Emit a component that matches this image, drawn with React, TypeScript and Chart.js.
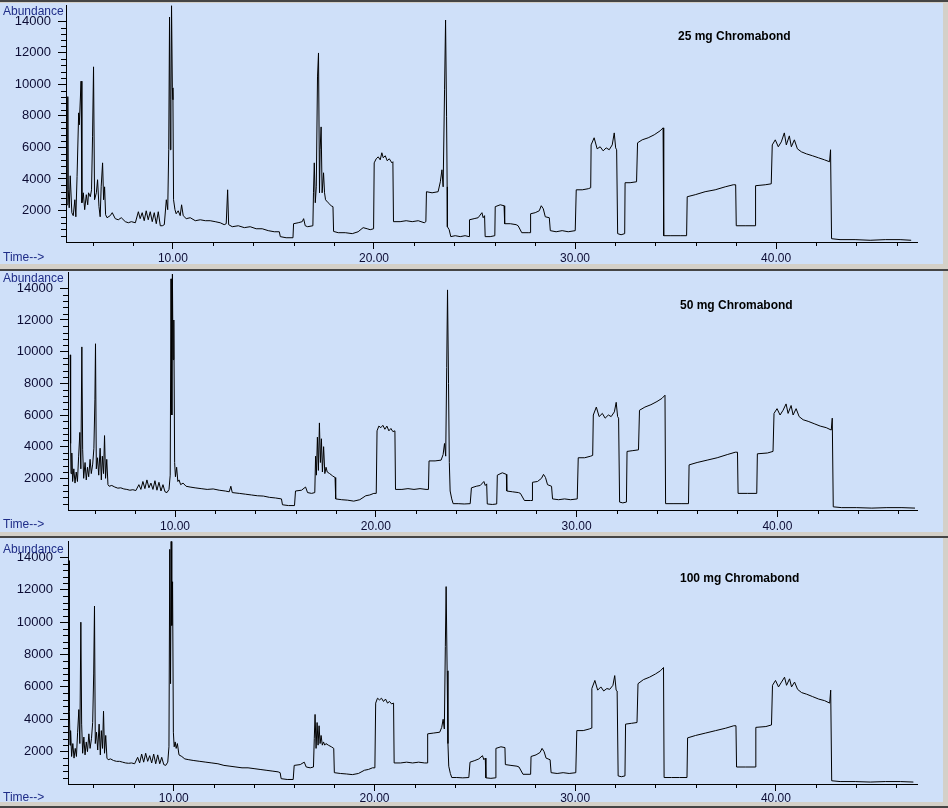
import React, { useEffect, useRef } from 'react';
import { Chart, registerables } from 'chart.js';

Chart.register(...registerables);

// ---------- tick labels ----------
const X_TICKS = [10, 20, 30, 40];
const Y_TICKS = [2000, 4000, 6000, 8000, 10000, 12000, 14000];
const TITLES = ['25 mg Chromabond', '50 mg Chromabond', '100 mg Chromabond'];

// ---------- 25 mg Chromabond ----------
const TIME_25 = [
  4.73, 4.77, 4.79, 4.84, 4.89, 4.97, 5.04, 5.12, 5.17, 5.23,
  5.31, 5.34, 5.43, 5.47, 5.54, 5.61, 5.69, 5.76, 5.80, 5.89,
  5.95, 6.00, 6.05, 6.10, 6.19, 6.25, 6.32, 6.38, 6.43, 6.50,
  6.55, 6.60, 6.65, 6.72, 6.88, 6.98, 7.13, 7.28, 7.43, 7.63,
  7.78, 7.93, 8.13, 8.28, 8.37, 8.47, 8.57, 8.67, 8.77, 8.87,
  8.97, 9.07, 9.17, 9.27, 9.37, 9.47, 9.57, 9.67, 9.74, 9.79,
  9.83, 9.87, 9.90, 9.93, 9.97, 10.00, 10.03, 10.10, 10.16, 10.26,
  10.36, 10.43, 10.51, 10.66, 10.86, 11.11, 11.36, 11.61, 11.85, 12.10,
  12.35, 12.55, 12.65, 12.72, 12.77, 12.95, 13.25, 13.55, 13.84, 14.14,
  14.44, 14.74, 15.04, 15.29, 15.34, 15.63, 15.97, 16.00, 16.23, 16.43,
  16.50, 16.58, 16.70, 16.96, 16.99, 17.03, 17.08, 17.13, 17.19, 17.24,
  17.29, 17.32, 17.37, 17.42, 17.49, 17.54, 17.59, 17.72, 17.87, 17.96,
  17.99, 18.22, 18.57, 18.92, 19.21, 19.46, 19.66, 19.81, 19.98, 20.01,
  20.11, 20.21, 20.31, 20.39, 20.46, 20.56, 20.66, 20.76, 20.89, 20.94,
  20.97, 21.30, 21.60, 21.90, 22.20, 22.50, 22.58, 22.61, 22.89, 23.19,
  23.30, 23.38, 23.44, 23.51, 23.56, 23.61, 23.64, 23.65, 23.74, 23.82,
  24.04, 24.29, 24.53, 24.73, 24.75, 24.98, 25.18, 25.37, 25.43, 25.50,
  25.53, 25.78, 26.01, 26.03, 26.28, 26.47, 26.50, 26.78, 27.07, 27.17,
  27.35, 27.67, 27.77, 27.79, 28.02, 28.22, 28.32, 28.42, 28.52, 28.72,
  28.77, 29.06, 29.36, 29.66, 30.01, 30.06, 30.36, 30.66, 30.78, 30.80,
  30.95, 31.10, 31.25, 31.40, 31.55, 31.70, 31.85, 31.95, 32.02, 32.07,
  32.12, 32.29, 32.47, 32.49, 32.74, 33.06, 33.11, 33.34, 33.64, 33.94,
  34.23, 34.38, 34.41, 34.73, 35.23, 35.55, 35.58, 35.98, 36.47, 36.97,
  37.47, 37.87, 37.99, 38.02, 38.46, 38.96, 38.98, 39.46, 39.76, 39.81,
  39.96, 40.11, 40.26, 40.41, 40.51, 40.66, 40.76, 40.91, 41.06, 41.26,
  41.51, 41.81, 42.11, 42.41, 42.66, 42.71, 42.76, 43.18, 43.93, 44.68,
  45.43, 46.17, 46.72,
];
const ABUND_25 = [
  2360, 9220, 3310, 2170, 4200, 1860, 1670, 2680, 1600, 4140,
  8190, 7430, 10200, 2490, 3120, 2050, 3000, 2360, 3120, 2870,
  3310, 6670, 11110, 2680, 3120, 3950, 2240, 1600, 3500, 5020,
  2680, 3500, 1730, 1540, 1670, 1860, 1480, 1410, 1540, 1290,
  1220, 1290, 1220, 1920, 1480, 1860, 1350, 1980, 1410, 1920,
  1290, 1860, 1160, 1920, 1030, 1030, 1100, 2680, 2050, 5850,
  14270, 5850, 9020, 15000, 9780, 9020, 2680, 2050, 1790, 1980,
  1670, 2360, 1670, 1480, 1540, 1350, 1410, 1350, 1350, 1290,
  1220, 1100, 1160, 3310, 1100, 970, 1030, 910, 970, 840,
  840, 720, 650, 650, 340, 270, 270, 1160, 1220, 1290,
  1480, 1030, 970, 1030, 3120, 5020, 2490, 3500, 10470, 11990,
  3120, 5850, 7300, 3120, 4390, 3120, 2680, 2490, 2300, 2240,
  670, 590, 590, 530, 650, 910, 840, 780, 840, 5020,
  5280, 5400, 5210, 5660, 5340, 5470, 5150, 5280, 5020, 5090,
  1290, 1290, 1350, 1290, 1350, 1220, 1290, 3190, 3120, 3190,
  3820, 4580, 3500, 9650, 14080, 7940, 3500, 970, 780, 340,
  400, 340, 400, 340, 1410, 1480, 1540, 1860, 1540, 1670,
  340, 340, 400, 2240, 2360, 2300, 1160, 1160, 1100, 1030,
  590, 590, 590, 1790, 1860, 1980, 2300, 2110, 1600, 1540,
  720, 650, 720, 650, 720, 3310, 3310, 3380, 3440, 6160,
  6610, 5910, 6040, 5780, 5970, 5850, 6160, 6920, 5970, 5850,
  530, 460, 530, 3760, 3760, 3820, 6290, 6480, 6610, 6800,
  7050, 7240, 400, 400, 400, 400, 2870, 3000, 3190, 3310,
  3500, 3630, 3630, 1030, 1030, 1030, 3570, 3630, 3690, 6160,
  6480, 6040, 6350, 6920, 6160, 6730, 6040, 6480, 5910, 5720,
  5590, 5470, 5340, 5210, 5090, 5850, 210, 150, 150, 110,
  150, 150, 110,
];

// ---------- 50 mg Chromabond ----------
const TIME_50 = [
  4.78, 4.80, 4.82, 4.86, 4.90, 4.96, 5.02, 5.08, 5.14, 5.20,
  5.26, 5.31, 5.36, 5.40, 5.45, 5.52, 5.58, 5.64, 5.70, 5.77,
  5.83, 5.90, 5.96, 6.01, 6.04, 6.08, 6.14, 6.20, 6.27, 6.33,
  6.38, 6.44, 6.49, 6.54, 6.60, 6.66, 6.72, 6.85, 7.00, 7.15,
  7.30, 7.45, 7.60, 7.75, 7.90, 8.05, 8.20, 8.30, 8.40, 8.50,
  8.60, 8.70, 8.80, 8.90, 9.00, 9.10, 9.20, 9.30, 9.40, 9.50,
  9.60, 9.70, 9.76, 9.80, 9.84, 9.87, 9.90, 9.94, 9.98, 10.02,
  10.08, 10.14, 10.20, 10.28, 10.40, 10.55, 10.75, 11.00, 11.30, 11.60,
  11.90, 12.20, 12.50, 12.70, 12.78, 12.85, 13.20, 13.50, 13.80, 14.10,
  14.40, 14.70, 15.00, 15.30, 15.35, 15.65, 15.95, 16.00, 16.30, 16.50,
  16.60, 16.80, 16.96, 17.00, 17.04, 17.09, 17.14, 17.19, 17.24, 17.29,
  17.34, 17.40, 17.46, 17.52, 17.58, 17.70, 17.85, 17.97, 18.00, 18.30,
  18.60, 18.90, 19.20, 19.50, 19.70, 19.90, 20.02, 20.06, 20.15, 20.25,
  20.35, 20.45, 20.55, 20.65, 20.75, 20.85, 20.95, 20.98, 21.30, 21.60,
  21.90, 22.20, 22.50, 22.62, 22.65, 22.95, 23.25, 23.35, 23.42, 23.48,
  23.53, 23.57, 23.62, 23.66, 23.70, 23.78, 23.85, 24.10, 24.40, 24.70,
  24.76, 25.00, 25.20, 25.38, 25.45, 25.52, 25.55, 25.80, 26.02, 26.05,
  26.30, 26.50, 26.52, 26.80, 27.10, 27.20, 27.40, 27.70, 27.78, 27.80,
  28.05, 28.25, 28.35, 28.45, 28.55, 28.75, 28.80, 29.10, 29.40, 29.70,
  30.03, 30.08, 30.40, 30.70, 30.80, 30.83, 30.98, 31.12, 31.28, 31.42,
  31.58, 31.72, 31.88, 31.97, 32.04, 32.09, 32.14, 32.30, 32.48, 32.51,
  32.80, 33.08, 33.13, 33.40, 33.70, 34.00, 34.25, 34.40, 34.43, 34.80,
  35.20, 35.57, 35.60, 36.00, 36.50, 37.00, 37.50, 37.90, 38.01, 38.04,
  38.50, 38.97, 39.00, 39.50, 39.78, 39.83, 39.98, 40.13, 40.28, 40.43,
  40.53, 40.68, 40.78, 40.93, 41.08, 41.28, 41.53, 41.83, 42.13, 42.43,
  42.68, 42.73, 42.78, 43.20, 43.95, 44.70, 45.45, 46.20, 46.85,
];
const ABUND_50 = [
  9800, 4200, 2300, 3600, 1800, 2600, 1700, 2400, 1800, 3400,
  4900, 2600, 10300, 3800, 2000, 3000, 1900, 2700, 2100, 3200,
  2300, 2900, 3900, 7000, 10500, 2600, 3300, 2200, 3900, 1900,
  3400, 2300, 4700, 2000, 3200, 1600, 1500, 1550, 1450, 1380,
  1400, 1330, 1300, 1250, 1280, 1230, 1600, 1300, 1800, 1350,
  1900, 1400, 1700, 1300, 1850, 1250, 1750, 1200, 1600, 1150,
  1100, 1300, 2200, 14600, 6000, 14900, 9500, 12000, 3000, 2100,
  2700, 1800, 1900, 1600, 1700, 1500, 1450, 1400, 1350, 1300,
  1330, 1250, 1200, 1150, 1500, 1100, 1050, 1000, 950, 900,
  880, 800, 760, 700, 330, 280, 280, 1200, 1250, 1450,
  1100, 1050, 1100, 3400, 2200, 4600, 2500, 5500, 3000, 4500,
  2400, 4000, 2300, 2700, 2400, 2300, 2150, 2050, 700, 650,
  620, 560, 650, 900, 950, 1050, 1050, 5000, 5300, 5200,
  5350, 5100, 5300, 5000, 5150, 4950, 5000, 1300, 1300, 1350,
  1300, 1350, 1300, 1300, 3100, 3100, 3150, 3500, 4200, 3400,
  9000, 13900, 8000, 3000, 1200, 700, 400, 400, 380, 400,
  1400, 1500, 1550, 1800, 1550, 1650, 380, 350, 380, 2200,
  2350, 2250, 1200, 1150, 1100, 1050, 600, 600, 600, 1750,
  1800, 2000, 2250, 2050, 1600, 1500, 700, 650, 700, 650,
  700, 3300, 3300, 3400, 3450, 6000, 6500, 5900, 6100, 5800,
  6000, 5900, 6200, 6800, 5900, 5800, 500, 450, 500, 3700,
  3750, 3800, 6300, 6500, 6650, 6850, 7050, 7250, 400, 400,
  400, 400, 2850, 3000, 3150, 3300, 3500, 3650, 3650, 1050,
  1050, 1050, 3550, 3600, 3700, 6100, 6400, 6000, 6300, 6700,
  6100, 6600, 6000, 6400, 5900, 5700, 5600, 5450, 5300, 5200,
  5050, 5800, 200, 150, 150, 120, 150, 150, 120,
];

// ---------- 100 mg Chromabond ----------
const TIME_100 = [
  4.78, 4.80, 4.83, 4.86, 4.91, 4.97, 5.03, 5.09, 5.15, 5.21,
  5.27, 5.32, 5.37, 5.41, 5.46, 5.52, 5.58, 5.64, 5.70, 5.77,
  5.83, 5.90, 5.96, 6.01, 6.05, 6.09, 6.15, 6.21, 6.28, 6.34,
  6.39, 6.45, 6.50, 6.55, 6.61, 6.67, 6.73, 6.85, 7.00, 7.15,
  7.30, 7.45, 7.60, 7.75, 7.90, 8.05, 8.20, 8.30, 8.40, 8.50,
  8.60, 8.70, 8.80, 8.90, 9.00, 9.10, 9.20, 9.30, 9.40, 9.50,
  9.60, 9.70, 9.76, 9.80, 9.84, 9.87, 9.90, 9.94, 9.98, 10.02,
  10.07, 10.12, 10.18, 10.26, 10.40, 10.55, 10.75, 11.00, 11.30, 11.60,
  11.90, 12.20, 12.50, 12.80, 13.10, 13.40, 13.70, 14.00, 14.30, 14.60,
  14.90, 15.20, 15.30, 15.35, 15.65, 15.95, 16.00, 16.30, 16.50, 16.60,
  16.80, 16.96, 17.00, 17.04, 17.09, 17.14, 17.19, 17.24, 17.29, 17.34,
  17.40, 17.46, 17.52, 17.58, 17.70, 17.85, 17.97, 18.00, 18.30, 18.60,
  18.90, 19.20, 19.50, 19.70, 19.90, 20.02, 20.06, 20.15, 20.25, 20.35,
  20.45, 20.55, 20.65, 20.75, 20.85, 20.95, 20.98, 21.30, 21.60, 21.90,
  22.20, 22.50, 22.62, 22.65, 22.95, 23.25, 23.35, 23.42, 23.48, 23.53,
  23.57, 23.62, 23.66, 23.70, 23.78, 23.85, 24.10, 24.40, 24.70, 24.76,
  25.00, 25.20, 25.38, 25.45, 25.52, 25.55, 25.80, 26.02, 26.05, 26.30,
  26.50, 26.52, 26.80, 27.10, 27.20, 27.40, 27.70, 27.78, 27.80, 28.05,
  28.25, 28.35, 28.45, 28.55, 28.75, 28.80, 29.10, 29.40, 29.70, 30.03,
  30.08, 30.40, 30.70, 30.80, 30.83, 30.98, 31.12, 31.28, 31.42, 31.58,
  31.72, 31.88, 31.97, 32.04, 32.09, 32.14, 32.30, 32.48, 32.51, 32.80,
  33.08, 33.13, 33.40, 33.70, 34.00, 34.25, 34.40, 34.43, 34.80, 35.20,
  35.57, 35.60, 36.00, 36.50, 37.00, 37.50, 37.90, 38.01, 38.04, 38.50,
  38.97, 39.00, 39.50, 39.78, 39.83, 39.98, 40.13, 40.28, 40.43, 40.53,
  40.68, 40.78, 40.93, 41.08, 41.28, 41.53, 41.83, 42.13, 42.43, 42.68,
  42.73, 42.78, 43.20, 43.95, 44.70, 45.45, 46.20, 46.85,
];
const ABUND_100 = [
  13800, 4500, 2400, 3300, 1700, 2500, 1600, 2200, 1700, 3200,
  4600, 2500, 10000, 3700, 1900, 2900, 1800, 2600, 2000, 3100,
  2200, 2800, 3800, 6800, 11000, 2500, 3200, 2100, 3700, 1800,
  3300, 2200, 4500, 1900, 3000, 1600, 1500, 1550, 1450, 1400,
  1400, 1350, 1300, 1280, 1300, 1250, 1650, 1300, 1850, 1350,
  1900, 1400, 1750, 1300, 1850, 1250, 1800, 1250, 1650, 1200,
  1150, 1350, 2300, 14500, 6200, 15000, 9800, 12500, 3200, 2300,
  2600, 2200, 2500, 1800, 1700, 1550, 1500, 1450, 1400, 1350,
  1300, 1250, 1150, 1100, 1050, 1000, 1000, 950, 900, 850,
  800, 750, 700, 330, 280, 280, 1150, 1200, 1350, 1050,
  1000, 1050, 2800, 4300, 2200, 3800, 2400, 3600, 2500, 3000,
  2400, 2600, 2400, 2500, 2400, 2300, 2200, 700, 650, 620,
  580, 650, 850, 900, 1000, 1000, 5000, 5300, 5200, 5300,
  5100, 5250, 5000, 5100, 4950, 5000, 1300, 1300, 1350, 1300,
  1350, 1300, 1300, 3100, 3150, 3200, 3500, 4000, 3400, 8500,
  12200, 7000, 2500, 1100, 650, 400, 400, 380, 400, 1350,
  1450, 1550, 1750, 1500, 1600, 380, 350, 380, 2200, 2300,
  2250, 1200, 1150, 1100, 1050, 600, 600, 600, 1700, 1800,
  1950, 2200, 2000, 1600, 1500, 700, 650, 700, 650, 700,
  3300, 3300, 3400, 3450, 5900, 6400, 5800, 6000, 5750, 5900,
  5850, 6100, 6700, 5800, 5750, 500, 450, 500, 3700, 3750,
  3800, 6200, 6450, 6600, 6800, 7000, 7200, 400, 400, 400,
  400, 2850, 3000, 3150, 3300, 3450, 3600, 3600, 1050, 1050,
  1050, 3500, 3550, 3650, 6100, 6400, 6000, 6300, 6600, 6100,
  6500, 6000, 6300, 5850, 5650, 5550, 5400, 5250, 5150, 5000,
  5800, 200, 150, 150, 120, 150, 150, 120,
];

// ---------- panel geometry ----------
type Panel = {
  title: string;
  times: number[];
  values: number[];
  top: number;
  height: number;
  axisX: number;
  axisY: number;
  plotTop: number;
  xMin: number;
  xMax: number;
  xPad: number;
  titleX: number;
  titleY: number;
  abundY: number;
  timeY: number;
};

const CANVAS_W = 943;
const PLOT_RIGHT = 917;
const Y_MAX = 15000;
const FONT = '"Liberation Sans", Arial, sans-serif';
const BLUE_BG = '#cfe0f9';
const LABEL_BLUE = '#1f2d88';
const TICK_TEXT = '#0c0c34';

const PANELS: Panel[] = [
  { title: TITLES[0], times: TIME_25, values: ABUND_25, top: 3, height: 261, axisX: 66, axisY: 239, plotTop: 2.5,
    xMin: 4.68, xMax: 47.01, xPad: 2, titleX: 678, titleY: 32.5, abundY: 8, timeY: 254 },
  { title: TITLES[1], times: TIME_50, values: ABUND_50, top: 271, height: 261, axisX: 68, axisY: 239, plotTop: 1.5,
    xMin: 4.67, xMax: 46.95, xPad: 2, titleX: 680, titleY: 34, abundY: 6.5, timeY: 253 },
  { title: TITLES[2], times: TIME_100, values: ABUND_100, top: 538, height: 264, axisX: 68, axisY: 246, plotTop: 3.3,
    xMin: 4.73, xMax: 47.03, xPad: 0, titleX: 680, titleY: 40, abundY: 11, timeY: 259 },
];

const minorTicks = {
  id: 'minorTicks',
  afterDraw(chart: any) {
    const { ctx, scales } = chart;
    const x = scales.x;
    const y = scales.y;
    ctx.save();
    ctx.strokeStyle = '#000';
    ctx.lineWidth = 1;
    ctx.beginPath();
    for (let v = 400; v <= 14000; v += 400) {
      if (v % 2000 === 0) continue;
      const py = Math.round(y.getPixelForValue(v)) + 0.5;
      ctx.moveTo(x.left - 5, py);
      ctx.lineTo(x.left, py);
    }
    for (let t = 6; t <= 46; t += 2) {
      if (t % 10 === 0) continue;
      const px = Math.round(x.getPixelForValue(t)) + 0.5;
      ctx.moveTo(px, y.bottom);
      ctx.lineTo(px, y.bottom + 4);
    }
    ctx.stroke();
    ctx.restore();
  },
};

function ChromPanel({ p }: { p: Panel }) {
  const ref = useRef<HTMLCanvasElement | null>(null);
  useEffect(() => {
    if (!ref.current) return;
    const n = Math.min(p.times.length, p.values.length);
    const data = [] as { x: number; y: number }[];
    for (let i = 0; i < n; i++) data.push({ x: p.times[i], y: p.values[i] });
    const chart = new Chart(ref.current, {
      type: 'line',
      data: {
        datasets: [
          {
            data,
            borderColor: '#000',
            borderWidth: 1,
            pointRadius: 0,
            tension: 0,
            fill: false,
          } as any,
        ],
      },
      plugins: [minorTicks as any],
      options: {
        responsive: false,
        animation: false,
        devicePixelRatio: 1,
        layout: { padding: { top: p.plotTop, right: CANVAS_W - PLOT_RIGHT, bottom: 0, left: 0 } },
        plugins: { legend: { display: false }, tooltip: { enabled: false }, title: { display: false } },
        scales: {
          x: {
            type: 'linear',
            position: 'bottom',
            min: p.xMin,
            max: p.xMax,
            afterBuildTicks: (s: any) => {
              s.ticks = X_TICKS.map((v) => ({ value: v }));
            },
            afterFit: (s: any) => {
              s.height = p.height - p.axisY;
              s.paddingLeft = 0;
              s.paddingRight = 0;
            },
            ticks: {
              autoSkip: false,
              maxRotation: 0,
              padding: p.xPad,
              color: TICK_TEXT,
              font: { family: FONT, size: 12 },
              callback: (v: any) => Number(v).toFixed(2),
            },
            grid: { display: true, drawOnChartArea: false, drawTicks: true, tickLength: 7, tickColor: '#000' },
            border: { display: true, color: '#000', width: 1 },
          },
          y: {
            type: 'linear',
            position: 'left',
            min: 0,
            max: Y_MAX,
            afterBuildTicks: (s: any) => {
              s.ticks = Y_TICKS.map((v) => ({ value: v }));
            },
            afterFit: (s: any) => {
              s.width = p.axisX;
              s.paddingTop = 0;
              s.paddingBottom = 0;
            },
            ticks: {
              autoSkip: false,
              padding: 7,
              color: TICK_TEXT,
              font: { family: FONT, size: 13 },
              callback: (v: any) => String(v),
            },
            grid: { display: true, drawOnChartArea: false, drawTicks: true, tickLength: 8, tickColor: '#000' },
            border: { display: true, color: '#000', width: 1 },
          },
        },
      } as any,
    });
    return () => chart.destroy();
  }, [p]);

  const textBase: React.CSSProperties = {
    position: 'absolute',
    fontFamily: FONT,
    fontSize: 12,
    lineHeight: '14px',
    whiteSpace: 'nowrap',
    margin: 0,
  };

  return (
    <div style={{ position: 'absolute', left: 0, top: p.top, width: CANVAS_W, height: p.height, overflow: 'hidden' }}>
      <canvas
        ref={ref}
        width={CANVAS_W}
        height={p.height}
        style={{ display: 'block', width: CANVAS_W, height: p.height, background: BLUE_BG }}
      />
      <div style={{ ...textBase, left: 3, top: p.abundY - 7, color: LABEL_BLUE }}>Abundance</div>
      <div style={{ ...textBase, left: 3, top: p.timeY - 7, color: LABEL_BLUE }}>Time--&gt;</div>
      <div style={{ ...textBase, left: p.titleX, top: p.titleY - 7, color: '#000', fontWeight: 'bold' }}>{p.title}</div>
    </div>
  );
}

export default function App() {
  return (
    <div style={{ position: 'fixed', left: 0, top: 0, width: 948, height: 808, background: '#d4d0c8', overflow: 'hidden' }}>
      <div style={{ position: 'absolute', left: 0, top: 0, width: 948, height: 2, background: '#454545' }} />
      <div style={{ position: 'absolute', left: 0, top: 269, width: 948, height: 2, background: '#454545' }} />
      <div style={{ position: 'absolute', left: 0, top: 536, width: 948, height: 2, background: '#454545' }} />
      <div style={{ position: 'absolute', left: 0, top: 806, width: 948, height: 2, background: '#454545' }} />
      {PANELS.map((p) => (
        <ChromPanel key={p.title} p={p} />
      ))}
    </div>
  );
}
